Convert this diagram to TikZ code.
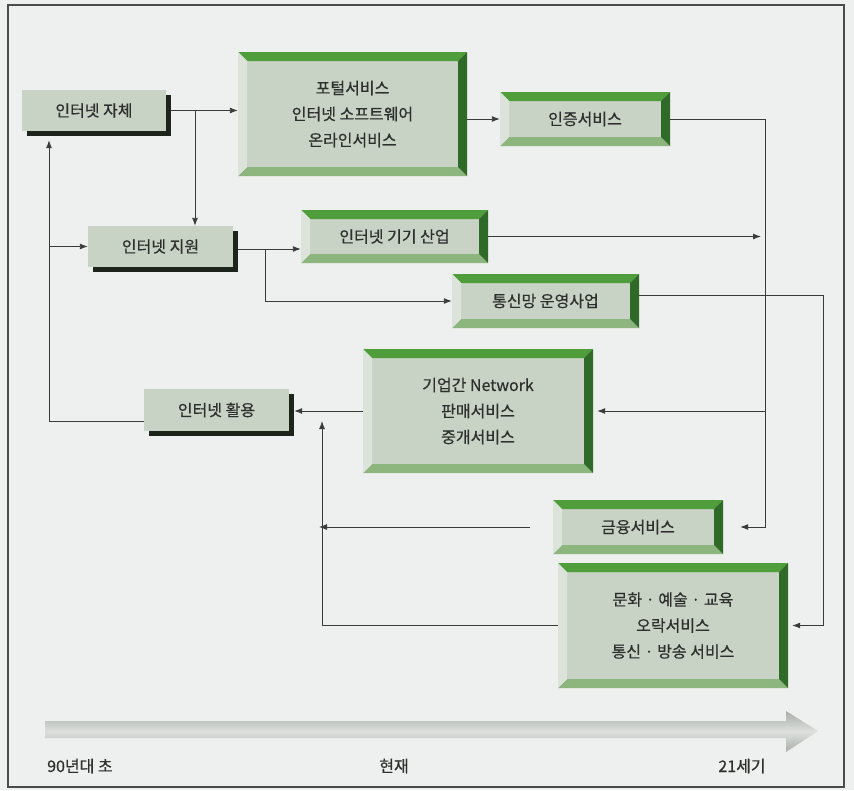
\documentclass[tikz,border=0pt]{standalone}
\usepackage{fontspec}
\setmainfont{Noto Sans CJK KR}[FakeBold=0.5]
\usetikzlibrary{arrows.meta, positioning, shadows, calc}
\definecolor{paper}{HTML}{EEF0EF}
\definecolor{frame}{HTML}{4A4C4A}
\definecolor{ink}{HTML}{2E302E}
\definecolor{wire}{HTML}{3A3C3A}
\definecolor{face}{HTML}{C8D3C6}
\definecolor{shade}{HTML}{1C241C}
\definecolor{bevtop}{HTML}{4F9E3B}
\definecolor{bevright}{HTML}{2F6A28}
\definecolor{bevbottom}{HTML}{8CB67D}
\definecolor{bevleft}{HTML}{DCE3DA}
\definecolor{railgray}{HTML}{A9AEA9}
\definecolor{raillight}{HTML}{DDE0DD}
\newcommand\bevw{9pt}
\tikzset{
  font=\fontsize{16}{26}\selectfont,
  >={Latex[length=8pt, width=6pt]},
  %
  plate/.style={
    fill=face, text=ink, align=center, inner sep=0pt,
    drop shadow={shadow xshift=5pt, shadow yshift=-5pt, fill=shade, opacity=1},
  },
  bevelbox/.style={
    fill=face, text=ink, align=center, inner sep=0pt,
    path picture={
      \fill[bevtop] (path picture bounding box.north west)
        -- (path picture bounding box.north east)
        -- ([xshift=-\bevw, yshift=-\bevw]path picture bounding box.north east)
        -- ([xshift=\bevw, yshift=-\bevw]path picture bounding box.north west) -- cycle;
      \fill[bevbottom] (path picture bounding box.south west)
        -- (path picture bounding box.south east)
        -- ([xshift=-\bevw, yshift=\bevw]path picture bounding box.south east)
        -- ([xshift=\bevw, yshift=\bevw]path picture bounding box.south west) -- cycle;
      \fill[bevleft] (path picture bounding box.north west)
        -- ([xshift=\bevw, yshift=-\bevw]path picture bounding box.north west)
        -- ([xshift=\bevw, yshift=\bevw]path picture bounding box.south west)
        -- (path picture bounding box.south west) -- cycle;
      \fill[bevright] (path picture bounding box.north east)
        -- ([xshift=-\bevw, yshift=-\bevw]path picture bounding box.north east)
        -- ([xshift=-\bevw, yshift=\bevw]path picture bounding box.south east)
        -- (path picture bounding box.south east) -- cycle;
    },
  },
  %
  flow/.style={draw=wire, line width=0.9pt},
  flowto/.style={flow, ->},
  era/.style={text=ink, font=\fontsize{16}{18}\selectfont, inner sep=0pt},
}

\begin{document}
\begin{tikzpicture}[x=1pt, y=-1pt]

  % --- paper and frame -----------------------------------------------------
  \useasboundingbox (0,0) rectangle (854,790);
  \fill[paper] (0,0) rectangle (854,790);
  \draw[frame, line width=2pt] (8,5) rectangle (844,787);

  % --- the three plates on the left -----------------------------------------
  \node[plate, minimum width=144pt, minimum height=41pt] (self) at (94,110.5) {인터넷 자체};
  \node[plate, minimum width=145pt, minimum height=41pt] (support) at (160.5,246.5) {인터넷 지원};
  \node[plate, minimum width=145pt, minimum height=42pt] (use) at (216.5,410) {인터넷 활용};

  % --- the bevelled services ------------------------------------------------
  \node[bevelbox, minimum width=229pt, minimum height=124pt] (portal) at (352.5,114)
    {포털서비스\\인터넷 소프트웨어\\온라인서비스};
  \node[bevelbox, minimum width=170pt, minimum height=54pt] (auth) at (585,119) {인증서비스};
  \node[bevelbox, minimum width=187pt, minimum height=53pt] (device) at (394.5,236.5) {인터넷 기기 산업};
  \node[bevelbox, minimum width=187pt, minimum height=54pt] (telecom) at (545.5,301) {통신망 운영사업};
  \node[bevelbox, minimum width=230pt, minimum height=124pt] (b2b) at (478,411)
    {기업간 Network\\판매서비스\\중개서비스};
  \node[bevelbox, minimum width=170pt, minimum height=54pt] (finance) at (638,527) {금융서비스};
  \node[bevelbox, minimum width=230pt, minimum height=125pt] (culture) at (673,625.5)
    {문화 · 예술 · 교육\\오락서비스\\통신 · 방송 서비스};

  % --- rails the connectors run along ----------------------------------------
  \coordinate (fork1) at (195,110.5);
  \coordinate (fork2) at (265,249);
  \coordinate (rail1) at (765,119);
  \coordinate (rail2) at (322,421);
  \coordinate (rail3) at (49,421);
  \coordinate (rail4) at (823,295);

  % --- connectors ------------------------------------------------------------
  \draw[flowto] ([xshift=5pt]self.east) -- (self.east -| portal.west);
  \draw[flowto] (fork1) -- (fork1 |- support.north);
  \draw[flowto] (auth.west -| portal.east) -- (auth.west);
  \draw[flowto, shorten >=17pt] (auth.east) -| (rail1 |- finance.east) -- (finance.east);
  \draw[flowto, shorten >=4pt] (rail1 |- b2b.east) -- (b2b.east);
  \draw[flowto] (device.east) -- ([xshift=-4pt]rail1 |- device.east);
  \draw[flowto, shorten >=4pt] (rail4 -| telecom.east) -| (rail4 |- culture.east) -- (culture.east);
  \draw[flowto] ([xshift=5pt]support.east |- fork2) -- (fork2 -| device.west);
  \draw[flowto] (fork2) |- (telecom.west);
  \draw[flowto, shorten >=5pt] (b2b.west) -- (b2b.west -| use.east);
  \draw[flowto, shorten <=23pt, shorten >=-3pt] (finance.west) -- (rail2 |- finance.west);
  \draw[flowto] (culture.west) -| (rail2);
  \draw[flowto, shorten >=9pt] (use.west |- rail3) -| (rail3 |- self.south);
  \draw[flowto] (rail3 |- support.west) -- (support.west);

  % --- time line -------------------------------------------------------------
  \shade[top color=railgray, bottom color=railgray, middle color=raillight]
    (45,721) -- (786,721) -- (786,711) -- (818,731) -- (786,752) -- (786,738)
    -- (45,738) -- cycle;
  \node[era, anchor=west] (early) at (47,766) {90년대 초};
  \node[era] (now) at (394,766) {현재};
  \node[era] (later) at (742,766) {21세기};

\end{tikzpicture}
\end{document}
